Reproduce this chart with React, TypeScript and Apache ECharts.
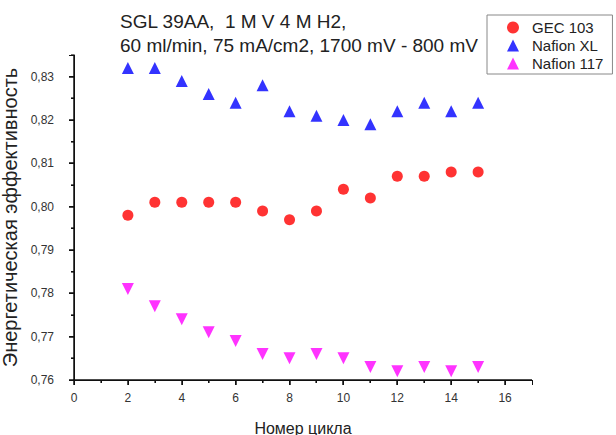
import React, { useEffect, useRef } from "react";
import * as echarts from "echarts";

const cycles = [2, 3, 4, 5, 6, 7, 8, 9, 10, 11, 12, 13, 14, 15];
const gec103 = [0.798, 0.801, 0.801, 0.801, 0.801, 0.799, 0.797, 0.799, 0.804, 0.802, 0.807, 0.807, 0.808, 0.808];
const nafionXL = [0.832, 0.832, 0.829, 0.826, 0.824, 0.828, 0.822, 0.821, 0.82, 0.819, 0.822, 0.824, 0.822, 0.824];
const nafion117 = [0.781, 0.777, 0.774, 0.771, 0.769, 0.766, 0.765, 0.766, 0.765, 0.763, 0.762, 0.763, 0.762, 0.763];
const seriesNames = ["GEC 103", "Nafion XL", "Nafion 117"];
const titleLines = ["SGL 39AA,  1 M V 4 M H2,", "60 ml/min, 75 mA/cm2, 1700 mV - 800 mV"];
const xName = "Номер цикла";
const yName = "Энергетическая эффективность";
const xRange = [0, 17];
const yRange = [0.76, 0.835];
const xMajorTicks = [0, 2, 4, 6, 8, 10, 12, 14, 16];
const xMinorTicks = [1, 3, 5, 7, 9, 11, 13, 15];
const yMajorTicks = [0.76, 0.77, 0.78, 0.79, 0.8, 0.81, 0.82, 0.83];
const yMinorTicks = [0.765, 0.775, 0.785, 0.795, 0.805, 0.815, 0.825, 0.835];

const FONT = 'Arial, "Liberation Sans", sans-serif';
const INK = "#111";

export default function App() {
  const ref = useRef<HTMLDivElement>(null);
  useEffect(() => {
    if (!ref.current) return;
    const chart = echarts.init(ref.current, null, { renderer: "svg" });
    const pairs = (vals: number[]) => cycles.map((c, i) => [c, vals[i]]);
    const fmtY = (v: number) => (v > 0.832 ? "" : v.toFixed(2).replace(".", ","));
    chart.setOption({
      animation: false,
      backgroundColor: "#fff",
      textStyle: { fontFamily: FONT },
      title: {
        text: titleLines.join("\n"),
        left: 120,
        top: 9,
        padding: 0,
        textStyle: { fontFamily: FONT, fontSize: 19, fontWeight: "normal", color: "#222", lineHeight: 24 },
      },
      legend: {
        orient: "vertical",
        left: 487,
        top: 15,
        padding: [5, 9, 3, 20],
        itemGap: 3,
        itemWidth: 12,
        itemHeight: 12,
        borderColor: "#888",
        borderWidth: 1,
        textStyle: { fontFamily: FONT, fontSize: 15, color: "#222", padding: [0, 0, 0, 8] },
        data: seriesNames,
      },
      grid: { left: 74, right: 84, top: 55, bottom: 55, containLabel: false, outerBoundsMode: "none" },
      xAxis: {
        type: "value",
        min: xRange[0],
        max: xRange[1],
        interval: 2,
        name: xName,
        nameLocation: "middle",
        nameGap: 40,
        nameTextStyle: { fontFamily: FONT, fontSize: 16, color: "#222" },
        axisLine: { show: true, onZero: false, lineStyle: { color: INK, width: 1 } },
        axisTick: { show: true, length: 5, lineStyle: { color: INK, width: 1 } },
        minorTick: { show: true, splitNumber: 2, length: 3, lineStyle: { color: INK, width: 1 } },
        axisLabel: {
          fontFamily: FONT,
          fontSize: 12,
          color: "#333",
          margin: 12,
          formatter: (v: number) => (v > 16 ? "" : String(v)),
        },
        splitLine: { show: false },
      },
      yAxis: {
        type: "value",
        min: yRange[0],
        max: yRange[1],
        interval: 0.01,
        name: yName,
        nameLocation: "middle",
        nameGap: 46,
        nameTextStyle: { fontFamily: FONT, fontSize: 20, color: "#222" },
        axisLine: { show: true, onZero: false, lineStyle: { color: INK, width: 1 } },
        axisTick: { show: true, length: 5, lineStyle: { color: INK, width: 1 } },
        minorTick: { show: true, splitNumber: 2, length: 3, lineStyle: { color: INK, width: 1 } },
        axisLabel: {
          fontFamily: FONT,
          fontSize: 12,
          color: "#333",
          margin: 20,
          formatter: fmtY,
        },
        splitLine: { show: false },
      },
      series: [
        { name: seriesNames[0], type: "scatter", symbol: "circle", symbolSize: 11, itemStyle: { color: "#ff0000" }, data: pairs(gec103) },
        { name: seriesNames[1], type: "scatter", symbol: "triangle", symbolSize: 12, itemStyle: { color: "#0000ff" }, data: pairs(nafionXL) },
        { name: seriesNames[2], type: "scatter", symbol: "triangle", symbolRotate: 180, symbolSize: 12, itemStyle: { color: "#ff00ff" }, data: pairs(nafion117) },
      ],
    });

    // Axis lines and ticks as thin filled rectangles, placed through the chart's own scales.
    try {
      const px = (x: number, y: number) => chart.convertToPixel({ gridIndex: 0 }, [x, y]) as unknown as number[];
      const o = px(xRange[0], yRange[0]);
      const tr = px(xRange[1], yRange[1]);
      if (o && tr && isFinite(o[0]) && isFinite(o[1]) && isFinite(tr[0]) && isFinite(tr[1])) {
        const X0 = Math.round(o[0]);
        const Y0 = Math.round(o[1]);
        const X1 = Math.round(tr[0]);
        const Y1 = Math.round(tr[1]);
        const w = 1.5;
        const mk = (x: number, y: number, width: number, height: number) => ({
          type: "rect",
          z: 100,
          silent: true,
          shape: { x, y, width, height },
          style: { fill: INK },
        });
        const els: any[] = [
          mk(X0 - w / 2, Y0 - w / 2, X1 - X0 + w / 2, w),
          mk(X0 - w / 2, Y1, w, Y0 - Y1 + w / 2),
        ];
        xMajorTicks.forEach((v) => {
          const x = Math.round(px(v, yRange[0])[0]);
          els.push(mk(x - w / 2, Y0, w, 5));
        });
        xMinorTicks.forEach((v) => {
          const x = Math.round(px(v, yRange[0])[0]);
          els.push(mk(x - 0.6, Y0, 1.2, 3));
        });
        yMajorTicks.forEach((v) => {
          const y = Math.round(px(xRange[0], v)[1]);
          els.push(mk(X0 - 5, y - w / 2, 5, w));
        });
        yMinorTicks.forEach((v) => {
          const y = Math.round(px(xRange[0], v)[1]);
          els.push(mk(X0 - 3, y - 0.6, 3, 1.2));
        });
        chart.setOption({ graphic: els });
      }
    } catch (e) {
      // ignore
    }
    return () => chart.dispose();
  }, []);
  return <div ref={ref} style={{ width: 616, height: 435, position: "fixed", left: 0, top: 0 }} />;
}
